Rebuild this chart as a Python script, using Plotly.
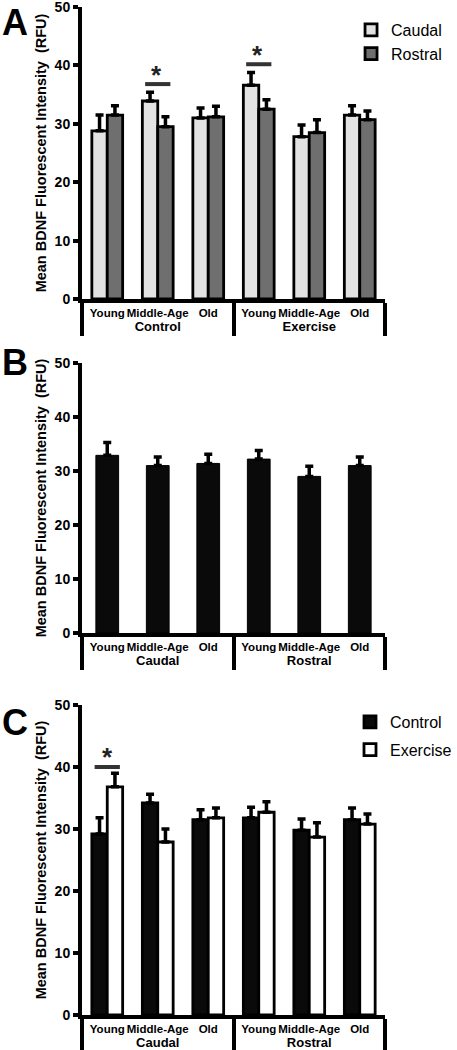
import plotly.graph_objects as go

# ---------------- data ----------------
ages = ["Young", "Middle-Age", "Old"]

# Panel A: Control / Exercise, Caudal vs Rostral
A_groups = ["Control", "Exercise"]
A_caudal = [28.8, 33.9, 31.0, 36.6, 27.8, 31.5]
A_caudal_err = [2.7, 1.5, 1.7, 2.2, 2.0, 1.6]
A_rostral = [31.5, 29.5, 31.2, 32.5, 28.5, 30.7]
A_rostral_err = [1.6, 1.7, 1.8, 1.6, 2.2, 1.5]

# Panel B: Caudal / Rostral pooled
B_groups = ["Caudal", "Rostral"]
B_mean = [32.9, 31.0, 31.4, 32.2, 29.0, 31.0]
B_err = [2.4, 1.6, 1.7, 1.6, 1.9, 1.6]

# Panel C: Caudal / Rostral, Control vs Exercise
C_groups = ["Caudal", "Rostral"]
C_control = [29.2, 34.2, 31.5, 31.8, 29.8, 31.5]
C_control_err = [2.6, 1.4, 1.6, 1.7, 1.8, 1.9]
C_exercise = [36.8, 27.9, 31.8, 32.7, 28.7, 30.8]
C_exercise_err = [2.2, 2.1, 1.6, 1.7, 2.3, 1.6]

# significance markers: (category index, bar height)
A_sig_idx = [1, 3]
A_sig_y = [36.8, 40.2]
C_sig_idx = [0]
C_sig_y = [40.0]

y_ticks = [0, 10, 20, 30, 40, 50]

# ---------------- helpers ----------------
FONT = "Liberation Sans, Arial, sans-serif"


def mcat(groups):
    outer = ["<span style='font-size:13px'>%s</span>" % g for g in groups for _ in ages]
    inner = ages * len(groups)
    return [outer, inner]


def err(vals):
    return dict(type="data", array=vals, arrayminus=[0] * len(vals), symmetric=False,
                color="black", thickness=3.5, width=4)


fig = go.Figure()

xa = mcat(A_groups)
fig.add_trace(go.Bar(x=xa, y=A_caudal, name="Caudal", error_y=err(A_caudal_err),
                     marker=dict(color="#e1e2e1", line=dict(color="black", width=2.8)),
                     xaxis="x", yaxis="y", legend="legend"))
fig.add_trace(go.Bar(x=xa, y=A_rostral, name="Rostral", error_y=err(A_rostral_err),
                     marker=dict(color="#6f6f6f", line=dict(color="black", width=2.8)),
                     xaxis="x", yaxis="y", legend="legend"))

xb = mcat(B_groups)
fig.add_trace(go.Bar(x=xb, y=B_mean, name="All", error_y=err(B_err), showlegend=False,
                     width=0.45,
                     marker=dict(color="#0a0a0a", line=dict(color="black", width=1)),
                     xaxis="x2", yaxis="y2"))

xc = mcat(C_groups)
fig.add_trace(go.Bar(x=xc, y=C_control, name="Control", error_y=err(C_control_err),
                     marker=dict(color="#0a0a0a", line=dict(color="black", width=2.8)),
                     xaxis="x3", yaxis="y3", legend="legend2", legendgroup="c1"))
fig.add_trace(go.Bar(x=xc, y=C_exercise, name="Exercise", error_y=err(C_exercise_err),
                     marker=dict(color="white", line=dict(color="black", width=2.8)),
                     xaxis="x3", yaxis="y3", legend="legend2", legendgroup="c2"))

H = 1050.0
def dom(top_px, bot_px):
    return [1 - bot_px / H, 1 - top_px / H]

ytitle = "Mean BDNF Fluorescent Intensity\u00a0 (RFU)"

def xax(anchor):
    return dict(type="multicategory", anchor=anchor, domain=[0, 1], showline=True,
                linecolor="black", linewidth=4, ticks="", showgrid=False, tickangle=0,
                automargin=False, ticklabeloverflow="allow",
                showdividers=True, dividercolor="black", dividerwidth=4,
                tickfont=dict(family=FONT, size=11.5, color="black", weight="bold"),
                zeroline=False)

def yax(anchor, d):
    return dict(anchor=anchor, domain=d, range=[0, 50], tickvals=y_ticks,
                automargin=False, ticklabeloverflow="allow",
                showline=True, linecolor="black", linewidth=4, ticks="outside",
                ticklen=5, tickwidth=4, tickcolor="black", showgrid=False, zeroline=False,
                tickfont=dict(family=FONT, size=14, color="black", weight="bold"),
                title=dict(text=ytitle, standoff=6,
                           font=dict(family=FONT, size=14.5, color="black", weight="bold")))

shapes = []
annotations = []
for idx, yv in zip(A_sig_idx, A_sig_y):
    shapes.append(dict(type="line", xref="x", yref="y", x0=idx - 0.25, x1=idx + 0.25,
                       y0=yv, y1=yv, line=dict(color="#333333", width=4)))
    annotations.append(dict(xref="x", yref="y", x=idx - 0.03, y=yv + 1.6, text="*",
                            showarrow=False, font=dict(family=FONT, size=26, color="#222",
                                                       weight="bold")))
for idx, yv in zip(C_sig_idx, C_sig_y):
    shapes.append(dict(type="line", xref="x3", yref="y3", x0=idx - 0.25, x1=idx + 0.25,
                       y0=yv, y1=yv, line=dict(color="#333333", width=4)))
    annotations.append(dict(xref="x3", yref="y3", x=idx, y=yv + 1.6, text="*",
                            showarrow=False, font=dict(family=FONT, size=26, color="#222",
                                                       weight="bold")))

for letter, ypx in [("A", -4), ("B", 340), ("C", 700)]:
    annotations.append(dict(xref="paper", yref="paper", x=-82 / 304.0, y=1 - max(ypx, 0) / H,
                            xanchor="left", yanchor="top", text=letter, showarrow=False,
                            font=dict(family=FONT, size=36, color="black", weight="bold")))

fig.update_layout(
    width=457, height=1050,
    margin=dict(l=82, r=71, t=0, b=0),
    paper_bgcolor="white", plot_bgcolor="white",
    barmode="group", bargap=0.39, bargroupgap=0,
    font=dict(family=FONT, color="black"),
    xaxis=xax("y"), yaxis=yax("x", dom(7, 299)),
    xaxis2=xax("y2"), yaxis2=yax("x2", dom(363, 633)),
    xaxis3=xax("y3"), yaxis3=yax("x3", dom(705, 1015)),
    legend=dict(x=0.885, y=1 - 13 / H, xanchor="left", yanchor="top",
                bgcolor="rgba(0,0,0,0)", font=dict(family=FONT, size=16, color="black")),
    legend2=dict(x=0.885, y=1 - 705 / H, xanchor="left", yanchor="top", tracegroupgap=4,
                 bgcolor="rgba(0,0,0,0)", font=dict(family=FONT, size=16, color="black")),
    shapes=shapes, annotations=annotations,
)

fig.write_html("out.html", config={"displayModeBar": False},
               post_script="document.body.style.margin='0';document.body.style.overflow='hidden';")
